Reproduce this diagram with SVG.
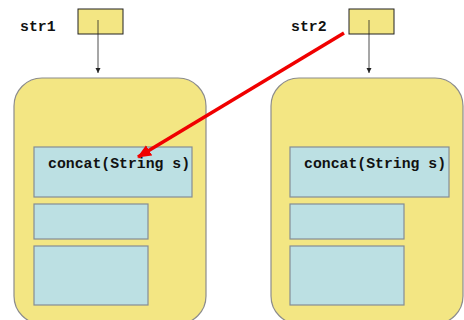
<svg xmlns="http://www.w3.org/2000/svg" width="464" height="320" viewBox="0 0 464 320">
<style>
.ref{fill:#f3e683;stroke:#222;stroke-width:1}
.obj{fill:#f3e683;stroke:#8c8c8c;stroke-width:1.2}
.m{fill:#bce0e3;stroke:#858d94;stroke-width:1.2}
.lbl{font-family:"Liberation Mono",monospace;font-weight:bold;font-size:14.8px;fill:#111}
.ptr{stroke:#222;stroke-width:0.8;fill:none}
</style>
<defs>
<marker id="ah" markerWidth="6" markerHeight="6" refX="5" refY="3" orient="auto" markerUnits="userSpaceOnUse">
<path d="M0,0.5 L5,3 L0,5.5 Z" fill="#222"/>
</marker>
<marker id="rh" markerWidth="14" markerHeight="12" refX="13" refY="6" orient="auto" markerUnits="userSpaceOnUse">
<path d="M0,0 L14,6 L0,12 Z" fill="#f00000"/>
</marker>
</defs>
<rect width="464" height="320" fill="#fff"/>
<g id="str1">
<text class="lbl" x="20" y="31">str1</text>
<rect class="ref" x="78" y="9" width="45" height="25"/>
</g>
<g id="str2">
<text class="lbl" x="291" y="31">str2</text>
<rect class="ref" x="349" y="9" width="45" height="25"/>
</g>
<g id="obj1">
<rect class="obj" x="14" y="78" width="192" height="246" rx="28" ry="28"/>
<rect class="m" x="34" y="147" width="158" height="50"/>
<text class="lbl" x="48" y="168">concat(String s)</text>
<rect class="m" x="34" y="204" width="114" height="35"/>
<rect class="m" x="34" y="246" width="114" height="59"/>
</g>
<g id="obj2">
<rect class="obj" x="271" y="78" width="192" height="246" rx="28" ry="28"/>
<rect class="m" x="290" y="147" width="159" height="50"/>
<text class="lbl" x="304" y="168">concat(String s)</text>
<rect class="m" x="290" y="204" width="114" height="35"/>
<rect class="m" x="290" y="246" width="114" height="59"/>
</g>
<g id="connectors">
<line class="ptr" x1="98" y1="20" x2="98" y2="73" marker-end="url(#ah)"/>
<line class="ptr" x1="369" y1="20" x2="369" y2="73" marker-end="url(#ah)"/>
<line x1="344" y1="33" x2="138" y2="157" stroke="#f00000" stroke-width="3.5" marker-end="url(#rh)"/>
</g>
</svg>
